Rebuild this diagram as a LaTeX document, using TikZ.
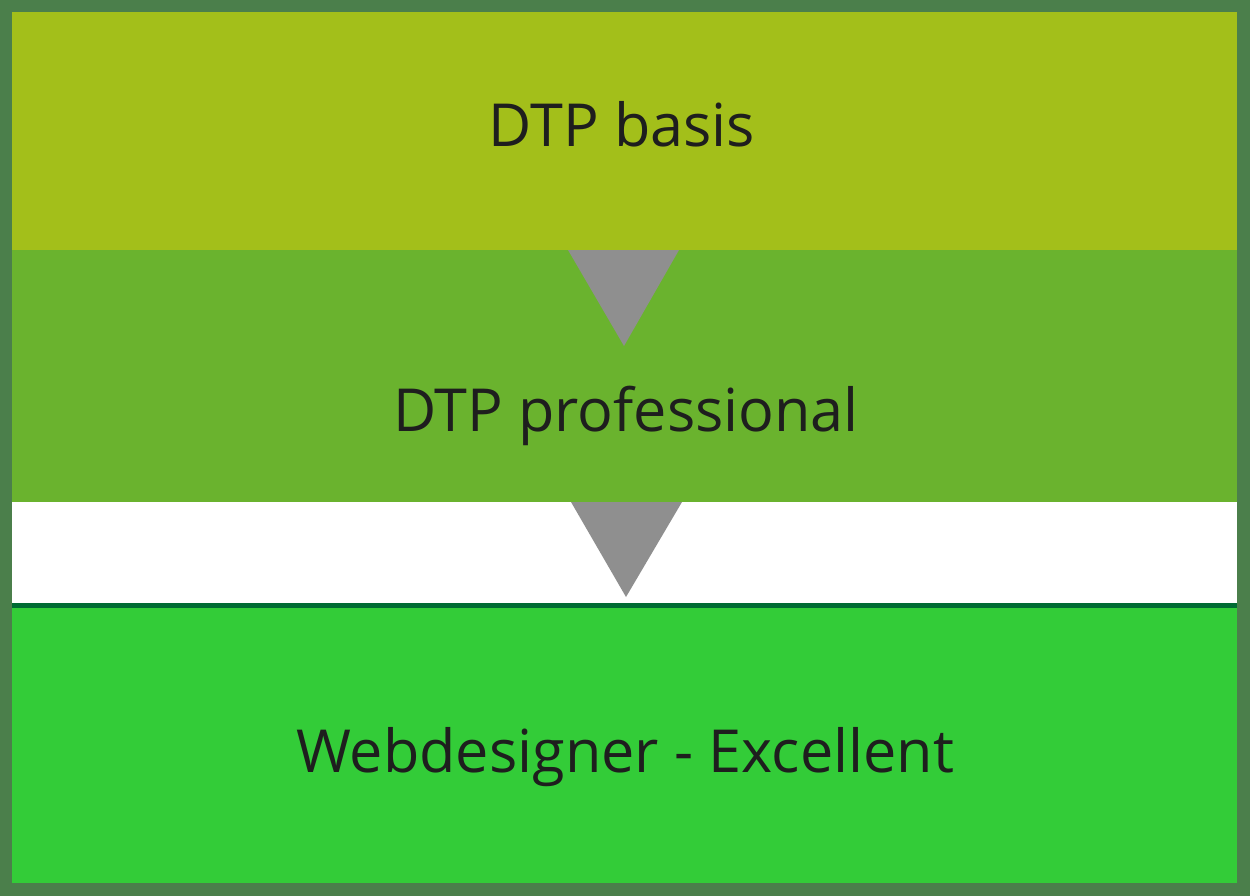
\documentclass[tikz,border=0pt]{standalone}
\usepackage{fontspec}
\setmainfont{Open Sans}
\definecolor{frame}{HTML}{4B7F4B}
\definecolor{basis}{HTML}{A3BF1A}
\definecolor{prof}{HTML}{6AB32E}
\definecolor{excel}{HTML}{33CC38}
\definecolor{rule}{HTML}{006B33}
\definecolor{arrowgray}{HTML}{8F8F8F}
\definecolor{ink}{HTML}{1E1E1E}
\tikzset{band/.style={inner sep=0pt,outer sep=0pt,anchor=north west},
	stage/.style={anchor=base,inner sep=0pt,text=ink,font=\fontsize{44.5}{53}\selectfont},
	pointer/.style={fill=arrowgray,draw=none}}

\begin{document}
\begin{tikzpicture}[x=0.75pt,y=-0.75pt]
\useasboundingbox (0,0) rectangle (1250,896);
\fill[frame] (0,0) rectangle (1250,896);
\fill[white] (12,12) rectangle (1237,883);
% bands
\fill[basis] (12,12) rectangle (1237,250);
\fill[prof] (12,250) rectangle (1237,502);
\fill[rule] (12,603) rectangle (1237,608);
\fill[excel] (12,608) rectangle (1237,883);
% pointers
\coordinate (p1l) at (568,250);
\coordinate (p1r) at (679,250);
\coordinate (p1t) at (624,346);
\coordinate (p2l) at (571,502);
\coordinate (p2r) at (682,502);
\coordinate (p2t) at (626,597);
\fill[pointer] (p1l) -- (p1r) -- (p1t) -- cycle;
\fill[pointer] (p2l) -- (p2r) -- (p2t) -- cycle;
% labels
\node[stage] (basis) at (622,146) {DTP basis};
\node[stage] (prof) at (626,431) {DTP professional};
\node[stage] (excel) at (625,772) {Webdesigner - Excellent};
\end{tikzpicture}
\end{document}
